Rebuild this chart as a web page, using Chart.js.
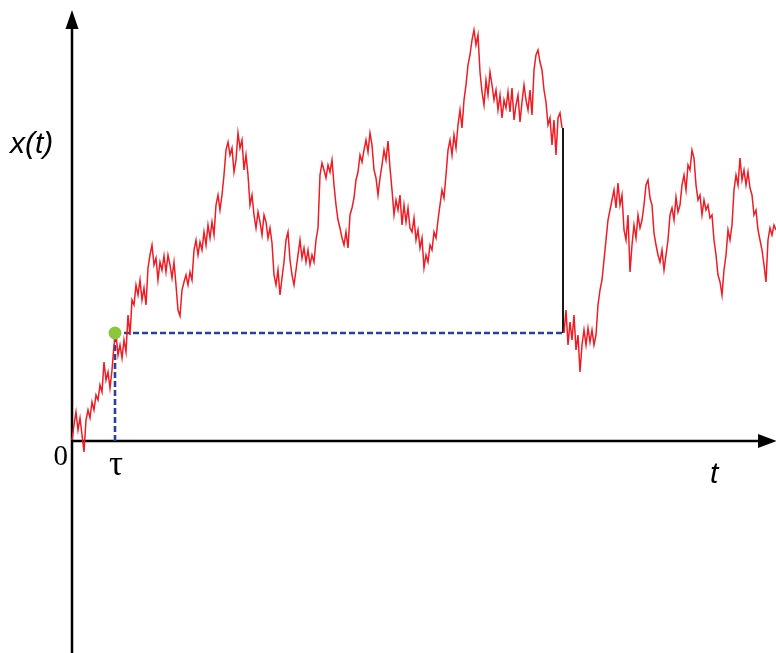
<!DOCTYPE html>
<html>
<head>
<meta charset="utf-8">
<script src="https://cdn.jsdelivr.net/npm/chart.js@4.4.1/dist/chart.umd.min.js"></script>
<style>
html,body{margin:0;padding:0;background:#fff;overflow:hidden;}
#wrap{width:776px;height:653px;position:relative;}
</style>
</head>
<body>
<div id="wrap"><canvas id="c"></canvas></div>
<script>
// Sampling: path sampled every 2 time units
const sampleStep = 2;
const firstStartT = 0;
const secondStartT = 492;

// Path values x(t) before reset (t = 0 .. 490)
const pathBefore = [
  1,16,29,11,23,6,-11,21,31,23,
  39,31,46,41,56,49,79,61,69,53,
  71,96,107,86,96,83,101,89,126,106,
  141,136,156,146,161,141,153,136,173,186,
  196,176,183,161,179,171,185,169,186,176,
  163,179,156,131,125,151,159,166,156,169,
  161,191,201,186,199,191,209,196,216,203,
  219,206,236,246,231,246,266,291,299,286,
  293,269,281,308,293,301,271,286,266,236,
  246,226,213,229,219,206,226,219,203,213,
  198,166,156,171,146,163,179,201,209,181,
  166,156,171,186,201,183,193,179,191,176,
  186,179,201,213,266,278,271,263,276,269,
  281,256,236,221,213,203,196,209,193,226,
  233,243,261,269,286,279,291,301,289,308,
  296,271,263,246,263,276,291,281,300,273,
  251,226,241,231,246,216,236,219,233,213,
  209,223,201,211,193,203,173,186,179,196,
  191,209,203,221,236,251,243,266,291,301,
  286,306,293,316,331,313,341,356,376,386,
  401,411,396,406,369,349,336,361,346,369,
  356,341,351,331,346,323,341,333,349,329,
  353,321,336,346,319,339,356,341,331,351,
  326,371,386,391,379,371,351,339,316,323,
  296,321,286,323,328,313
];

// Path values x(t) after reset (t = 492 .. 704)
const pathAfter = [
  108,131,96,119,101,126,91,106,69,96,
  111,96,113,99,111,96,106,136,151,161,
  181,201,221,231,241,251,233,258,236,246,
  211,201,226,169,196,216,203,226,213,221,
  236,256,261,243,236,208,196,186,179,191,
  171,186,201,226,233,221,244,229,236,256,
  266,251,276,271,291,283,256,241,246,226,
  241,231,236,223,226,201,186,166,159,146,
  171,186,211,201,216,251,266,256,283,261,
  271,256,269,253,246,226,231,211,201,191,
  176,159,201,213,206,216,211
];

// Key markers
const tau = 43;            // first passage time
const threshold = 108;     // level x(tau)
const resetTime = 491;     // time of reset jump
const preResetValue = 313; // value just before reset

// Axis extents (data units)
const tMin = -72, tMax = 704;
const xMin = -212, xMax = 441;
const yAxisTop = 431;

const toPoints = (arr, t0) => arr.map((v, i) => ({x: t0 + i * sampleStep, y: v}));

const axesPlugin = {
  id: 'arrowAxes',
  beforeDatasetsDraw(chart) {
    const {ctx, scales: {x, y}, chartArea} = chart;
    const ox = x.getPixelForValue(0), oy = y.getPixelForValue(0);
    const topY = y.getPixelForValue(yAxisTop);
    const rightX = x.getPixelForValue(tMax);
    ctx.save();
    ctx.strokeStyle = '#000';
    ctx.fillStyle = '#000';
    ctx.lineWidth = 2.5;
    // y axis
    ctx.beginPath();
    ctx.moveTo(ox, chartArea.bottom);
    ctx.lineTo(ox, topY + 14);
    ctx.stroke();
    ctx.beginPath();
    ctx.moveTo(ox, topY);
    ctx.lineTo(ox - 6.5, topY + 19);
    ctx.lineTo(ox + 6.5, topY + 19);
    ctx.closePath();
    ctx.fill();
    // x axis
    ctx.beginPath();
    ctx.moveTo(ox, oy);
    ctx.lineTo(rightX - 14, oy);
    ctx.stroke();
    ctx.beginPath();
    ctx.moveTo(rightX + 1, oy);
    ctx.lineTo(rightX - 18, oy - 7);
    ctx.lineTo(rightX - 18, oy + 7);
    ctx.closePath();
    ctx.fill();
    ctx.restore();
  },
  afterDraw(chart) {
    const {ctx, scales: {x, y}} = chart;
    const ox = x.getPixelForValue(0), oy = y.getPixelForValue(0);
    ctx.save();
    ctx.fillStyle = '#000';
    ctx.textBaseline = 'alphabetic';
    ctx.font = 'italic 30px "Liberation Sans", Arial, sans-serif';
    ctx.textAlign = 'left';
    ctx.fillText('x(t)', ox - 62, y.getPixelForValue(288));
    ctx.fillText('t', x.getPixelForValue(638), oy + 42);
    ctx.font = '29px "Liberation Serif", "Times New Roman", serif';
    ctx.textAlign = 'right';
    ctx.fillText('0', ox - 4, oy + 24);
    ctx.font = '35px "Liberation Serif", "Times New Roman", serif';
    ctx.textAlign = 'center';
    ctx.fillText('τ', x.getPixelForValue(tau) + 1, oy + 34);
    ctx.restore();
  }
};

new Chart(document.getElementById('c'), {
  type: 'line',
  data: {
    datasets: [
      {
        data: [{x: tau, y: threshold}],
        showLine: false,
        pointRadius: 6.5,
        pointBackgroundColor: '#8cc63e',
        pointBorderWidth: 0,
        order: 0
      },
      {
        data: toPoints(pathBefore, firstStartT),
        borderColor: '#ee1c24',
        borderWidth: 1.5,
        pointRadius: 0,
        tension: 0,
        order: 1
      },
      {
        data: toPoints(pathAfter, secondStartT),
        borderColor: '#ee1c24',
        borderWidth: 1.5,
        pointRadius: 0,
        tension: 0,
        order: 1
      },
      {
        data: [{x: resetTime, y: preResetValue}, {x: resetTime, y: threshold}],
        borderColor: '#000',
        borderWidth: 1.8,
        pointRadius: 0,
        order: 2
      },
      {
        data: [{x: tau, y: 0}, {x: tau, y: threshold}, {x: resetTime, y: threshold}],
        borderColor: '#2a4294',
        borderWidth: 2.6,
        borderDash: [6, 3],
        pointRadius: 0,
        order: 3
      }
    ]
  },
  options: {
    responsive: true,
    maintainAspectRatio: false,
    animation: false,
    layout: {padding: 0, autoPadding: false},
    plugins: {legend: {display: false}, tooltip: {enabled: false}},
    scales: {
      x: {type: 'linear', min: tMin, max: tMax, display: false},
      y: {type: 'linear', min: xMin, max: xMax, display: false}
    }
  },
  plugins: [axesPlugin]
});
</script>
</body>
</html>
